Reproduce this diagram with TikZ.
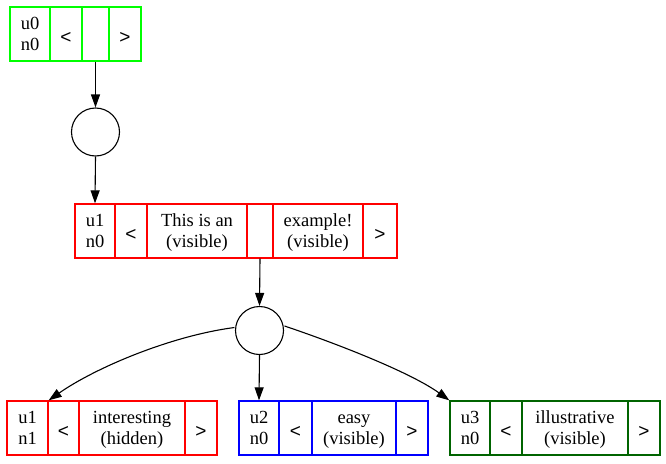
\documentclass[tikz,border=0pt]{standalone}
\usepackage{fontspec}
\setmainfont{Liberation Serif}
\newfontfamily\arrowfont{Liberation Sans}
\usetikzlibrary{arrows.meta}
\definecolor{gvgreen}{HTML}{00FF00}
\definecolor{gvdarkgreen}{HTML}{006400}
\definecolor{gvred}{HTML}{FF0000}
\definecolor{gvblue}{HTML}{0000FF}
\newcommand{\lt}{\raisebox{-9.5pt}[0pt][0pt]{\arrowfont\fontsize{19}{21}\selectfont <}}
\newcommand{\gtr}{\raisebox{-9.5pt}[0pt][0pt]{\arrowfont\fontsize{19}{21}\selectfont >}}
\newcommand{\twolines}[2]{\raisebox{-6pt}[0pt][0pt]{\begin{tabular}{@{}c@{}}#1\\#2\end{tabular}}}
\begin{document}
\begin{tikzpicture}[x=1pt,y=-1pt,
  cell/.style={line width=1.33pt, minimum height=54pt, inner sep=0pt,
    font=\fontsize{18.5}{21}\selectfont},
  gcell/.style={cell, draw=gvgreen},
  rcell/.style={cell, draw=gvred},
  bcell/.style={cell, draw=gvblue},
  dcell/.style={cell, draw=gvdarkgreen},
  junction/.style={draw, circle, line width=1.1pt, minimum size=48pt, inner sep=0pt},
  edge/.style={line width=1.1pt, -{Triangle[length=13pt,width=9pt]}}]
\useasboundingbox (0,0) rectangle (666,463);
% top record
\node[gcell, minimum width=40pt] (t1) at (30,34) {\twolines{u0}{n0}};
\node[gcell, minimum width=32pt] (t2) at (66,34) {\lt};
\node[gcell, minimum width=27pt] (t3) at (95.5,34) {};
\node[gcell, minimum width=32pt] (t4) at (125,34) {\gtr};
\node[junction] (c1) at (95.5,132) {};
% middle record
\node[rcell, minimum width=40pt] (m1) at (95,231) {\twolines{u1}{n0}};
\node[rcell, minimum width=32pt] (m2) at (131,231) {\lt};
\node[rcell, minimum width=100pt] (m3) at (197,231) {\twolines{This is an}{(visible)}};
\node[rcell, minimum width=26pt] (m4) at (260,231) {};
\node[rcell, minimum width=90pt] (m5) at (318,231) {\twolines{example!}{(visible)}};
\node[rcell, minimum width=34pt] (m6) at (380,231) {\gtr};
\node[junction] (c2) at (259.5,330.5) {};
% bottom records
\node[rcell, minimum width=41pt] (a1) at (27.5,428) {\twolines{u1}{n1}};
\node[rcell, minimum width=31pt] (a2) at (63.5,428) {\lt};
\node[rcell, minimum width=106pt] (a3) at (132,428) {\twolines{interesting}{(hidden)}};
\node[rcell, minimum width=32pt] (a4) at (201,428) {\gtr};
\node[bcell, minimum width=40pt] (b1) at (259,428) {\twolines{u2}{n0}};
\node[bcell, minimum width=33pt] (b2) at (295.5,428) {\lt};
\node[bcell, minimum width=84pt] (b3) at (354,428) {\twolines{easy}{(visible)}};
\node[bcell, minimum width=32pt] (b4) at (412,428) {\gtr};
\node[dcell, minimum width=40pt] (d1) at (470,428) {\twolines{u3}{n0}};
\node[dcell, minimum width=32pt] (d2) at (506,428) {\lt};
\node[dcell, minimum width=106pt] (d3) at (575,428) {\twolines{illustrative}{(visible)}};
\node[dcell, minimum width=32pt] (d4) at (644,428) {\gtr};
% edges
\draw[edge] (t3.south) -- (c1.north);
\draw[edge] (c1.south) -- (m1.north);
\draw[edge] (m4.south) -- (c2.north);
\draw[edge] (c2.south) -- (b1.north);
\coordinate (cl) at ([shift={(-0.5pt,3pt)}]c2.west);
\coordinate (cr) at ([shift={(0.5pt,4.5pt)}]c2.east);
\draw[edge] (cl) .. controls (170,336) and (95,368) .. (a1.north east);
\draw[edge] (cr) .. controls (335,343) and (410,372) .. (d1.north west);
\end{tikzpicture}
\end{document}
